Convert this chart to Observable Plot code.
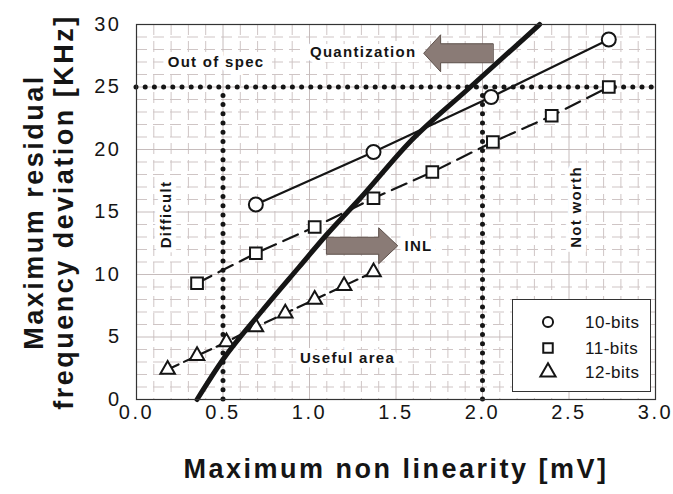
<!DOCTYPE html>
<html>
<head>
<meta charset="utf-8">
<script src="https://cdn.jsdelivr.net/npm/d3@7"></script>
<script src="https://cdn.jsdelivr.net/npm/@observablehq/plot@0.6"></script>
<style>
  body { margin: 0; background: #fff; }
  #wrap { position: relative; width: 673px; height: 494px; overflow: hidden; }
  g[aria-label="x-axis tick label"] text, g[aria-label="y-axis tick label"] text { letter-spacing: 2.5px; }
  #legend { position: absolute; left: 512px; top: 299px; width: 139px; height: 93px;
            border: 1px solid #333; background: #fff; box-sizing: border-box; }
</style>
</head>
<body>
<div id="wrap"></div>
<script>
// ---- data ----
const bits10X = [0.69, 1.37, 2.05, 2.73];
const bits10Y = [15.6, 19.8, 24.2, 28.8];
const bits11X = [0.35, 0.69, 1.03, 1.37, 1.71, 2.06, 2.40, 2.73];
const bits11Y = [9.3, 11.7, 13.8, 16.1, 18.2, 20.6, 22.7, 25.0];
const bits12X = [0.18, 0.35, 0.52, 0.69, 0.86, 1.03, 1.20, 1.37];
const bits12Y = [2.4, 3.5, 4.6, 5.8, 6.9, 8.0, 9.1, 10.2];
const limitX = [0.35, 0.50, 0.72, 0.94, 1.10, 1.30, 1.58, 1.93, 2.33];
const limitY = [0, 3.2, 7.0, 10.6, 13.2, 16.2, 20.6, 25.0, 30.0];
const specLimitY = [25];
const boundaryX = [0.5, 2.0];
const xTicks = [0, 0.5, 1.0, 1.5, 2.0, 2.5, 3.0];
const yTicks = [0, 5, 10, 15, 20, 25, 30];
const majorGridX = [0.5, 1.0, 1.5, 2.0, 2.5];
const majorGridY = [5, 10, 15, 20, 25];
const minorGridX = [0.1,0.2,0.3,0.4,0.6,0.7,0.8,0.9,1.1,1.2,1.3,1.4,1.6,1.7,1.8,1.9,2.1,2.2,2.3,2.4,2.6,2.7,2.8,2.9];
const minorGridY = [1,2,3,4,6,7,8,9,11,12,13,14,16,17,18,19,21,22,23,24,26,27,28,29];
const zoneText = ["Out of spec", "Quantization", "Difficult", "Not worth", "INL", "Useful area"];
const zoneX = [0.46, 1.31, 0.17, 2.54, 1.63, 1.22];
const zoneY = [27.0, 27.8, 14.8, 15.4, 12.3, 3.3];
const zoneRotate = [0, 0, -90, -90, 0, 0];
// arrows: [tailX, tipX, centerY, bodyHalf, headHalf, headLength]
const arrowQuant = [2.06, 1.66, 27.7, 0.76, 1.48, 0.098];
const arrowINL = [1.10, 1.51, 12.3, 0.68, 1.44, 0.11];
const seriesNames = ["10-bits", "11-bits", "12-bits"];
const xTitle = "Maximum non linearity [mV]";
const yTitle = "Maximum residual\nfrequency deviation [KHz]";

// ---- build tables ----
const d10 = bits10X.map((x, i) => ({x, y: bits10Y[i]}));
const d11 = bits11X.map((x, i) => ({x, y: bits11Y[i]}));
const d12 = bits12X.map((x, i) => ({x, y: bits12Y[i]}));
const limit = limitX.map((x, i) => ({x, y: limitY[i]}));
const zones = zoneText.map((t, i) => ({t, x: zoneX[i], y: zoneY[i], r: zoneRotate[i]}));
function arrowPoly(a, id) {
  const [tail, tip, cy, bh, hh, hl] = a;
  const dir = Math.sign(tip - tail);
  const base = tip - dir * hl;
  return [
    [tail, cy + bh], [base, cy + bh], [base, cy + hh], [tip, cy],
    [base, cy - hh], [base, cy - bh], [tail, cy - bh]
  ].map(([x, y]) => ({x, y, id}));
}
const arrows = [...arrowPoly(arrowQuant, "q"), ...arrowPoly(arrowINL, "i")];

const font = "'Liberation Sans', Arial, Helvetica, sans-serif";
const ink = "#151515";

const chart = Plot.plot({
  width: 673, height: 494,
  marginLeft: 136, marginRight: 18, marginTop: 24, marginBottom: 95,
  style: {fontFamily: font, background: "white", color: ink},
  x: {domain: [0, 3]},
  y: {domain: [0, 30]},
  marks: [
    Plot.gridX(minorGridX, {stroke: "#cfc5c5", strokeOpacity: 1, strokeWidth: 1, strokeDasharray: "11,6"}),
    Plot.gridY(minorGridY, {stroke: "#cfc5c5", strokeOpacity: 1, strokeWidth: 1, strokeDasharray: "11,6"}),
    Plot.gridX(majorGridX, {stroke: "#c6bcbc", strokeOpacity: 1, strokeWidth: 1}),
    Plot.gridY(majorGridY, {stroke: "#c6bcbc", strokeOpacity: 1, strokeWidth: 1}),
    Plot.text(zones, {x: "x", y: "y", text: "t", rotate: "r", fontSize: 15, fontWeight: "bold",
      fill: ink, stroke: "white", strokeWidth: 10, strokeLinejoin: "miter"}),
    Plot.ruleY(specLimitY, {stroke: ink, strokeWidth: 5, strokeDasharray: "0,9.2", strokeLinecap: "round"}),
    Plot.ruleX(boundaryX, {y1: 0, y2: 25, stroke: ink, strokeWidth: 5, strokeDasharray: "0,9.2", strokeLinecap: "round"}),
    Plot.line(arrows, {x: "x", y: "y", z: "id", fill: "#8a7b76", stroke: "#5d504b", strokeWidth: 1, curve: "linear-closed"}),
    Plot.line(d10, {x: "x", y: "y", stroke: ink, strokeWidth: 2.2}),
    Plot.line(d11, {x: "x", y: "y", stroke: ink, strokeWidth: 2.2, strokeDasharray: "16,8"}),
    Plot.line(d12, {x: "x", y: "y", stroke: ink, strokeWidth: 2.2, strokeDasharray: "12,6"}),
    Plot.dot(d10, {x: "x", y: "y", symbol: "circle", r: 7, fill: "white", stroke: ink, strokeWidth: 2}),
    Plot.dot(d11, {x: "x", y: "y", symbol: "square", r: 6.6, fill: "white", stroke: ink, strokeWidth: 2}),
    Plot.dot(d12, {x: "x", y: "y", symbol: "triangle", r: 5.4, fill: "white", stroke: ink, strokeWidth: 2}),
    Plot.line(limit, {x: "x", y: "y", stroke: ink, strokeWidth: 5, curve: "monotone-x"}),
    Plot.frame({stroke: "#333", strokeWidth: 1.2}),
    Plot.axisX({ticks: xTicks, tickFormat: d3.format(".1f"), tickSize: 0, tickPadding: 5,
      fontSize: 20, label: null, fill: ink}),
    Plot.axisY({ticks: yTicks, tickSize: 0, tickPadding: 15, fontSize: 20, label: null, fill: ink}),
    Plot.text([xTitle], {frameAnchor: "bottom", textAnchor: "middle", lineAnchor: "middle", dy: 70,
      fontSize: 27, fontWeight: "bold", fill: ink}),
    Plot.text([yTitle], {frameAnchor: "left", textAnchor: "middle", lineAnchor: "middle", dx: -88, rotate: -90,
      fontSize: 27, fontWeight: "bold", lineHeight: 1.11, fill: ink})
  ]
});

// letter spacing of the titles and zone labels (matched by their text)
const titleKeys = [xTitle, yTitle.replace("\n", "")];
d3.select(chart).selectAll("text").each(function() {
  const t = this.textContent;
  if (titleKeys.includes(t)) this.style.letterSpacing = "2.5px";
  else if (zoneText.includes(t)) this.style.letterSpacing = "1.3px";
});

const wrap = document.getElementById("wrap");
wrap.appendChild(chart);

// legend (HTML box with small SVG symbols)
const legend = document.createElement("div");
legend.id = "legend";
const ls = d3.create("svg").attr("width", 137).attr("height", 91)
  .style("position", "absolute").style("left", "0px").style("top", "0px");
const rowsY = [22, 48, 72];
seriesNames.forEach((name, i) => {
  const sym = [d3.symbolCircle, d3.symbolSquare, d3.symbolTriangle][i];
  const size = [80, 90, 100][i];
  ls.append("path").attr("d", d3.symbol(sym, size)())
    .attr("transform", `translate(35,${rowsY[i]})`)
    .attr("fill", "white").attr("stroke", ink).attr("stroke-width", 2);
  ls.append("text").attr("x", 72).attr("y", rowsY[i]).attr("dy", "0.35em")
    .attr("font-family", font).attr("font-size", 17).attr("letter-spacing", "0.5px")
    .attr("fill", ink).text(name);
});
legend.appendChild(ls.node());
wrap.appendChild(legend);
</script>
</body>
</html>
